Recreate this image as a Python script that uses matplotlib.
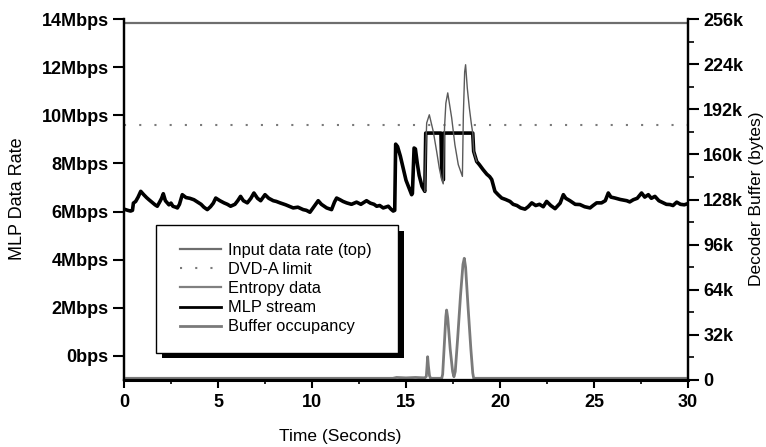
import matplotlib
matplotlib.use("Agg")
import matplotlib.pyplot as plt
from matplotlib.patches import Rectangle
from matplotlib.lines import Line2D

plt.rcParams['font.family'] = ['Liberation Sans', 'DejaVu Sans']

# ---------------- data ----------------
input_rate = 13.824      # Mbps, input data rate (top)
dvda_limit = 9.6         # Mbps, DVD-A limit

mlp_t = [0.0, 0.2, 0.35, 0.45, 0.5, 0.62, 0.75, 0.89, 1.05, 1.2, 1.33, 1.5, 1.65, 1.77, 1.9,
         2.0, 2.09, 2.2, 2.39, 2.5, 2.6, 2.75, 2.84, 2.95, 3.1, 3.3, 3.5, 3.72, 3.9, 4.1,
         4.25, 4.43, 4.6, 4.75, 4.88, 5.1, 5.32, 5.5, 5.67, 5.9, 6.05, 6.2, 6.35, 6.56, 6.75,
         6.91, 7.1, 7.27, 7.5, 7.7, 7.94, 8.1, 8.3, 8.6, 9.0, 9.25, 9.53, 9.7, 9.89, 10.1,
         10.33, 10.5, 10.78, 11.04, 11.2, 11.31, 11.49, 11.65, 11.84, 12.1, 12.37, 12.6, 12.9,
         13.1, 13.3, 13.44, 13.6, 13.79, 14.06, 14.2, 14.32, 14.40,
         14.45, 14.55, 14.7, 14.85, 15.0, 15.15, 15.3, 15.34, 15.43, 15.5, 15.6, 15.7, 15.85,
         16.0, 16.05, 16.86, 16.9, 16.95, 16.99, 17.0, 18.55, 18.6, 18.76, 18.9, 19.1, 19.3,
         19.45, 19.56, 19.73, 19.9, 20.09, 20.3, 20.53, 20.7, 20.9, 21.1, 21.33, 21.5, 21.69,
         21.9, 22.1, 22.3, 22.48, 22.7, 22.93, 23.2, 23.37, 23.5, 23.72, 24.0, 24.25, 24.5,
         24.79, 24.95, 25.14, 25.4, 25.6, 25.76, 25.9, 26.12, 26.4, 26.74, 26.9, 27.09, 27.3,
         27.53, 27.7, 27.89, 28.05, 28.24, 28.45, 28.69, 28.85, 29.04, 29.2, 29.4, 29.6, 29.8,
         30.0]
mlp_v = [6.10, 6.05, 6.02, 6.05, 6.35, 6.42, 6.60, 6.84, 6.70, 6.58, 6.49, 6.38, 6.28, 6.22, 6.40,
         6.55, 6.74, 6.45, 6.28, 6.35, 6.22, 6.18, 6.15, 6.30, 6.70, 6.58, 6.55, 6.49, 6.40, 6.30,
         6.18, 6.08, 6.20, 6.35, 6.56, 6.45, 6.36, 6.30, 6.22, 6.30, 6.45, 6.63, 6.45, 6.36, 6.55,
         6.77, 6.55, 6.45, 6.70, 6.55, 6.45, 6.42, 6.36, 6.28, 6.15, 6.18, 6.08, 6.05, 5.97, 6.20,
         6.45, 6.30, 6.15, 6.08, 6.40, 6.56, 6.49, 6.42, 6.36, 6.30, 6.39, 6.30, 6.45,
         6.35, 6.30, 6.22, 6.25, 6.15, 6.22, 6.10, 6.02, 6.05,
         8.80, 8.70, 8.30, 7.80, 7.30, 7.00, 6.70, 6.75, 8.64, 8.60, 8.00, 7.50, 7.05,
         6.84, 9.26, 9.26, 7.80, 7.40, 7.32, 9.26, 9.26, 8.50, 8.08, 7.95, 7.74, 7.55,
         7.45, 7.33, 6.84, 6.70, 6.56, 6.50, 6.42, 6.30, 6.25, 6.15, 6.10, 6.20, 6.36,
         6.25, 6.30, 6.20, 6.42, 6.25, 6.12, 6.35, 6.70, 6.55, 6.45, 6.30, 6.29, 6.20,
         6.15, 6.25, 6.36, 6.36, 6.45, 6.77, 6.60, 6.56, 6.50, 6.45, 6.40, 6.49, 6.55,
         6.77, 6.60, 6.70, 6.55, 6.63, 6.45, 6.36, 6.30, 6.29, 6.25, 6.39, 6.30, 6.28,
         6.33]

entropy_t = [16.0, 16.05, 16.1, 16.24, 16.45, 16.63, 16.77, 16.9, 16.98, 17.05, 17.12, 17.22,
             17.43, 17.6, 17.78, 18.0, 18.05, 18.12, 18.17, 18.26, 18.37, 18.47, 18.55, 18.6, 18.76]
entropy_v = [6.84, 8.6, 9.68, 10.02, 9.33, 8.5, 7.81, 7.32, 7.15, 9.5, 10.5, 10.93,
             9.89, 8.78, 7.95, 7.46, 10.0, 11.8, 12.1, 11.13, 10.3, 9.68, 9.26, 8.5, 8.08]

buffer_t = [0.0, 5.0, 10.0, 14.3, 14.5, 15.0, 15.5, 16.0, 16.08, 16.12, 16.15, 16.19, 16.25,
            16.31, 16.9, 16.95, 17.05, 17.12, 17.16, 17.22, 17.35, 17.48, 17.55, 17.62, 17.75,
            17.9, 18.03, 18.1, 18.17, 18.3, 18.45, 18.55, 18.6, 22.0, 30.0]
buffer_k = [1.2, 1.2, 1.2, 1.2, 1.8, 1.5, 1.8, 1.5, 2.5, 10.0, 16.5, 10.0, 3.0,
            1.2, 1.2, 4.0, 28.0, 45.0, 49.6, 44.0, 22.0, 6.0, 2.3, 6.0, 30.0,
            60.0, 82.0, 86.3, 80.0, 52.0, 22.0, 5.0, 1.2, 1.2, 1.2]

left_ticks = [0, 2, 4, 6, 8, 10, 12, 14]
left_labels = ['0bps', '2Mbps', '4Mbps', '6Mbps', '8Mbps', '10Mbps', '12Mbps', '14Mbps']
right_ticks = [0, 32, 64, 96, 128, 160, 192, 224, 256]
right_labels = ['0', '32k', '64k', '96k', '128k', '160k', '192k', '224k', '256k']
x_ticks = [0, 5, 10, 15, 20, 25, 30]

legend_labels = ['Input data rate (top)', 'DVD-A limit', 'Entropy data', 'MLP stream',
                 'Buffer occupancy']

# ---------------- figure ----------------
fig = plt.figure(figsize=(7.66, 4.47), dpi=100)
ax = fig.add_axes([124 / 766, 1 - 380 / 447, 564 / 766, 361 / 447])
ax.set_xlim(0, 30)
ax.set_ylim(-1, 14)

c_input = '#6e6e6e'
c_dvd = '#7a7a7a'
c_entropy = '#5a5a5a'
c_buffer = '#7a7a7a'

dots = (0, (1, 6.3))
ax.axhline(input_rate, color=c_input, lw=1.6, zorder=2)
ax.axhline(dvda_limit, color=c_dvd, lw=1.5, ls=dots, zorder=2)
ax.plot(mlp_t, mlp_v, color='black', lw=2.6, solid_joinstyle='round', zorder=3)
ax.plot(entropy_t, entropy_v, color=c_entropy, lw=1.0, zorder=4)

ax2 = ax.twinx()
ax2.set_ylim(0, 256)
ax2.plot(buffer_t, buffer_k, color=c_buffer, lw=2.0, zorder=2)

# spines
for a in (ax, ax2):
    a.spines['top'].set_visible(False)
    for s in ('left', 'right', 'bottom'):
        a.spines[s].set_linewidth(1.6)
ax.spines['bottom'].set_linewidth(2.2)

# ticks
tick_font = dict(family=['Liberation Sans', 'DejaVu Sans'], weight='bold', size=13)
ax.set_xticks(x_ticks)
ax.set_xticks([2.5 + 5 * i for i in range(6)], minor=True)
ax.set_xticklabels([str(v) for v in x_ticks], fontdict=tick_font)
ax.set_yticks(left_ticks)
ax.set_yticklabels(left_labels, fontdict=tick_font)
ax.tick_params(axis='x', which='major', direction='out', length=6, width=1.5, pad=4)
ax.tick_params(axis='x', which='minor', direction='out', length=3, width=1.2)
ax.tick_params(axis='y', which='major', direction='out', length=8, width=1.5, pad=3)
ax2.set_yticks(right_ticks)
ax2.set_yticks([16 + 32 * i for i in range(8)], minor=True)
ax2.set_yticklabels(right_labels, fontdict=tick_font)
ax2.tick_params(axis='y', which='major', direction='out', length=8, width=1.5, pad=3)
ax2.tick_params(axis='y', which='minor', direction='out', length=4, width=1.2)

# labels
ax.set_xlabel('Time (Seconds)', fontsize=12.5)
ax.xaxis.set_label_coords((340 - 124) / 564, (380 - 436) / 361)
ax.xaxis.label.set_verticalalignment('center')
ax.set_ylabel('MLP Data Rate', fontsize=13)
ax.yaxis.set_label_coords((18 - 124) / 564, (380 - 199) / 361)
ax.yaxis.label.set_verticalalignment('center')
ax2.set_ylabel('Decoder Buffer (bytes)', fontsize=12.5)
ax2.yaxis.set_label_coords((757 - 124) / 564, (380 - 199) / 361)
ax2.yaxis.label.set_verticalalignment('center')

# legend with shadowed frame
handles = [
    Line2D([], [], color=c_input, lw=1.6),
    Line2D([], [], color=c_dvd, lw=1.5, ls=dots),
    Line2D([], [], color='#808080', lw=1.6),
    Line2D([], [], color='black', lw=2.0),
    Line2D([], [], color=c_buffer, lw=2.0),
]
ax2.add_patch(Rectangle(((162 - 124) / 564, (380 - 358) / 361), 242 / 564, 127 / 361,
                        transform=ax2.transAxes, facecolor='black', edgecolor='none',
                        zorder=4.4, clip_on=False))
ax2.add_patch(Rectangle(((156 - 124) / 564, (380 - 353) / 361), 242 / 564, 128 / 361,
                        transform=ax2.transAxes, facecolor='white', edgecolor='black',
                        lw=1.0, zorder=4.5, clip_on=False))
leg = ax2.legend(handles, legend_labels, loc='upper left',
                 bbox_to_anchor=((180 - 124) / 564, (380 - 243) / 361),
                 frameon=False, borderpad=0, borderaxespad=0, fontsize=11.8,
                 handlelength=2.5, handletextpad=0.4, labelspacing=0.25)
leg.set_zorder(5)

fig.savefig('out.png', dpi=100)
